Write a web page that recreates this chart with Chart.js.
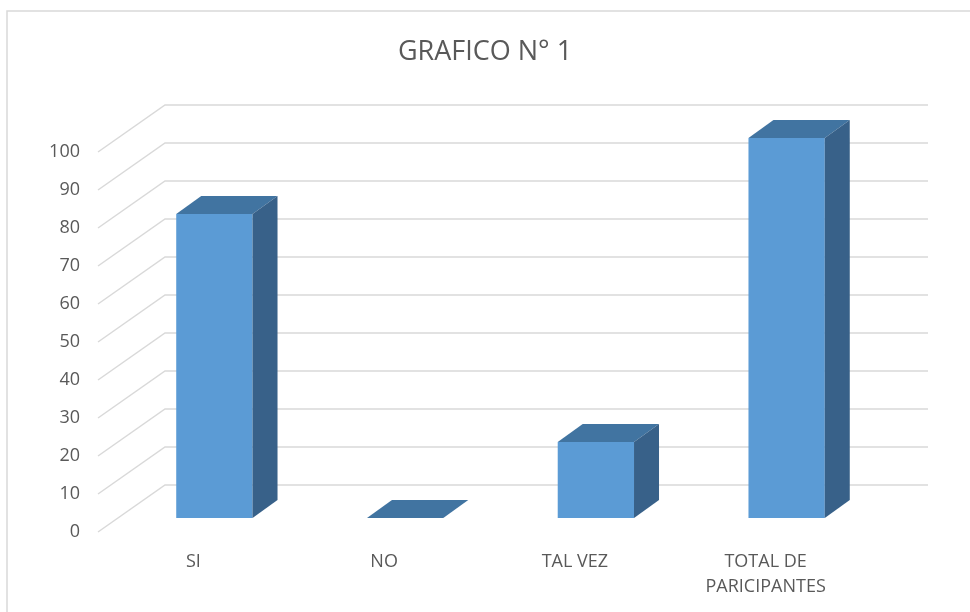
<!DOCTYPE html>
<html>
<head>
<meta charset="utf-8">
<script src="https://cdn.jsdelivr.net/npm/chart.js@4.4.1/dist/chart.umd.min.js"></script>
<style>
  html, body { margin: 0; padding: 0; background: #fff; }
  #wrap { width: 970px; height: 612px; }
</style>
</head>
<body>
<div id="wrap"><canvas id="chart" width="970" height="612"></canvas></div>
<script>
// data
const categories = ['SI', 'NO', 'TAL VEZ', ['TOTAL DE', 'PARICIPANTES']];
const values = [80, 0, 20, 100];
const yTicks = { min: 0, max: 100, step: 10 };

// 3d look (offsets in px)
const wallDepth = { dx: 67, dy: -47 };
const barShift = { dx: 21, dy: -14 };
const barDepth = { dx: 25, dy: -18 };

const FONT = '"Open Sans", "Liberation Sans", sans-serif';
const TEXT = '#595959';

const frame = {
  id: 'frame',
  beforeDraw(chart) {
    const ctx = chart.ctx;
    ctx.save();
    ctx.fillStyle = '#fff';
    ctx.fillRect(0, 0, chart.width, chart.height);
    ctx.strokeStyle = '#d9d9d9';
    ctx.lineWidth = 1.5;
    ctx.strokeRect(7, 11, chart.width + 20, chart.height + 20);
    ctx.restore();
  }
};

const bars3d = {
  id: 'bars3d',
  beforeDatasetsDraw(chart) {
    const { ctx, chartArea } = chart;
    const y = chart.scales.y;
    ctx.save();
    ctx.strokeStyle = '#d9d9d9';
    ctx.lineWidth = 1.5;
    y.ticks.forEach(t => {
      const py = y.getPixelForValue(t.value);
      ctx.beginPath();
      ctx.moveTo(chartArea.left, py);
      ctx.lineTo(chartArea.left + wallDepth.dx, py + wallDepth.dy);
      ctx.lineTo(chartArea.right + wallDepth.dx, py + wallDepth.dy);
      ctx.stroke();
    });
    ctx.restore();
    // front faces are drawn by chart.js, just moved back a bit
    ctx.save();
    ctx.translate(barShift.dx, barShift.dy);
  },
  afterDatasetsDraw(chart) {
    const ctx = chart.ctx;
    const meta = chart.getDatasetMeta(0);
    meta.data.forEach(bar => {
      const l = bar.x - bar.width / 2, r = bar.x + bar.width / 2;
      const top = bar.y, base = bar.base;
      ctx.fillStyle = '#4174a1';
      ctx.beginPath();
      ctx.moveTo(l, top);
      ctx.lineTo(l + barDepth.dx, top + barDepth.dy);
      ctx.lineTo(r + barDepth.dx, top + barDepth.dy);
      ctx.lineTo(r, top);
      ctx.closePath();
      ctx.fill();
      ctx.fillStyle = '#386189';
      ctx.beginPath();
      ctx.moveTo(r, top);
      ctx.lineTo(r + barDepth.dx, top + barDepth.dy);
      ctx.lineTo(r + barDepth.dx, base + barDepth.dy);
      ctx.lineTo(r, base);
      ctx.closePath();
      ctx.fill();
    });
    ctx.restore();
  }
};

new Chart(document.getElementById('chart'), {
  type: 'bar',
  data: {
    labels: categories,
    datasets: [{
      data: values,
      backgroundColor: '#5b9bd5',
      borderWidth: 0,
      categoryPercentage: 1,
      barPercentage: 0.4,
      clip: false
    }]
  },
  options: {
    responsive: false,
    animation: false,
    layout: { padding: 0 },
    plugins: {
      legend: { display: false },
      tooltip: { enabled: false },
      title: {
        display: true,
        text: 'GRAFICO N° 1',
        color: TEXT,
        font: { family: FONT, size: 27, weight: 'normal', lineHeight: 1.2 },
        padding: { top: 36, bottom: 83.6 }
      }
    },
    scales: {
      x: {
        grid: { display: false, drawTicks: false },
        border: { display: false },
        ticks: {
          color: TEXT,
          font: { family: FONT, size: 18, lineHeight: 1.4 },
          padding: 17,
          maxRotation: 0,
          autoSkip: false
        },
        afterFit: s => { s.height = 80; }
      },
      y: {
        min: yTicks.min,
        max: yTicks.max,
        grid: { display: false, drawTicks: false },
        border: { display: false },
        ticks: {
          stepSize: yTicks.step,
          color: TEXT,
          font: { family: FONT, size: 18 },
          padding: 18
        },
        afterFit: s => { s.width = 98; }
      },
      // empty box on the right, leaves room for the back wall
      side: {
        position: 'right',
        grid: { display: false, drawTicks: false },
        border: { display: false },
        ticks: { display: false },
        afterFit: s => { s.width = 109; }
      }
    }
  },
  plugins: [frame, bars3d]
});
</script>
</body>
</html>
